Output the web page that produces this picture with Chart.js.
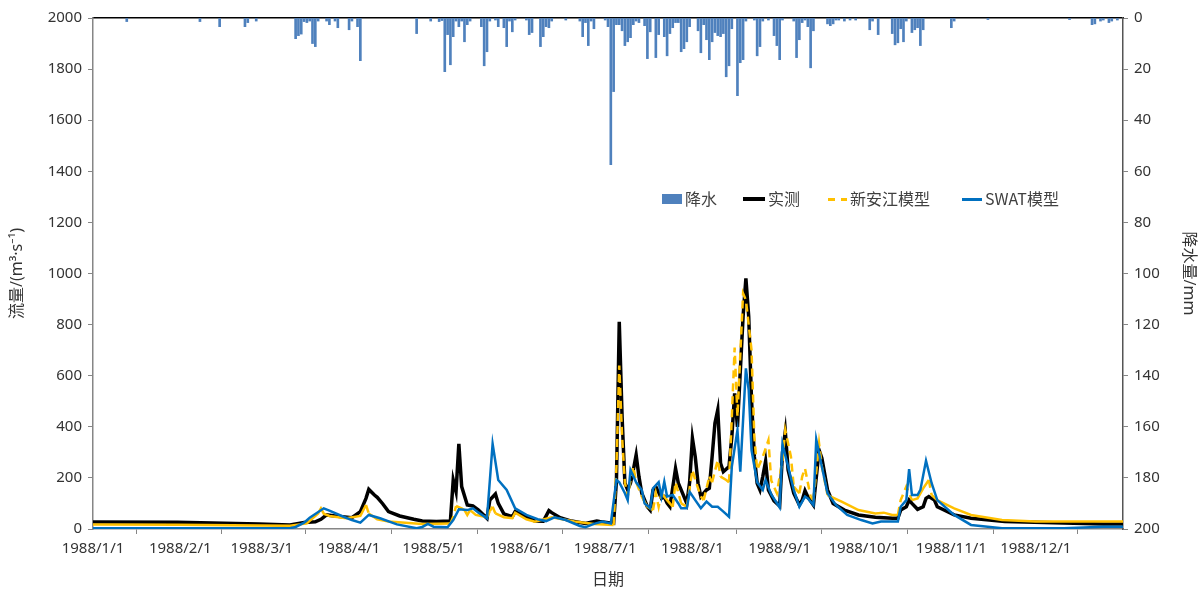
<!DOCTYPE html>
<html>
<head>
<meta charset="utf-8">
<script src="https://cdn.jsdelivr.net/npm/chart.js@4.4.1/dist/chart.umd.min.js"></script>
<style>
  body { margin: 0; background: #fff; }
  #wrap { position: relative; width: 1198px; height: 594px; }
  .lg { position: absolute; top: 187px; font: 16px "Noto Sans CJK SC", "Noto Sans", sans-serif; color: #404040; line-height: 22px; white-space: nowrap; }
  .sw { display: inline-block; vertical-align: middle; margin-right: 3px; }
</style>
</head>
<body>
<div id="wrap">
  <canvas id="c" width="1198" height="594"></canvas>
  <div class="lg" style="left:662px"><span class="sw" style="width:20px;height:10px;background:#4f81bd;margin-top:-3px"></span>降水</div>
  <div class="lg" style="left:743px"><span class="sw" style="width:22px;height:4px;background:#000;margin-top:-3px"></span>实测</div>
  <div class="lg" style="left:828px"><span class="sw" style="width:7px;height:3px;background:#ffc000;margin-right:6px;margin-top:-3px"></span><span class="sw" style="width:6px;height:3px;background:#ffc000;margin-top:-3px"></span>新安江模型</div>
  <div class="lg" style="left:962px"><span class="sw" style="width:20px;height:3px;background:#0070c0;margin-top:-3px"></span>SWAT模型</div>
</div>
<script>
// 1988 年日流量与降水 —— 数值按图读取（x = 年内第几天，0 = 1月1日）

// ── 坐标轴标签 ─────────────────────────────────────────────
const monthStarts = [0, 31, 60, 91, 121, 152, 182, 213, 244, 274, 305, 335];
const monthLabels = ['1988/1/1', '1988/2/1', '1988/3/1', '1988/4/1', '1988/5/1', '1988/6/1',
                     '1988/7/1', '1988/8/1', '1988/9/1', '1988/10/1', '1988/11/1', '1988/12/1'];

// ── 降水 (mm) ─────────────────────────────────────────────
const rainDays = [12, 38, 45, 54, 55, 58, 72, 73, 74, 75, 76, 77, 78, 79, 80, 83, 84, 86, 87, 91, 92, 94, 95,
  115, 120, 123, 124, 125, 126, 127, 128, 129, 130, 131, 132, 133, 134, 138, 139, 140, 141, 143, 144, 146, 147,
  148, 149, 150, 154, 155, 156, 159, 160, 161, 162, 163, 168, 173, 174, 175, 176, 177, 178, 182, 183, 184, 185,
  186, 187, 188, 189, 190, 191, 192, 193, 194, 196, 197, 198, 200, 201, 203, 204, 205, 206, 207, 208, 209, 210,
  211, 212, 215, 216, 217, 218, 219, 220, 221, 222, 223, 224, 225, 226, 227, 229, 230, 231, 232, 235, 236, 237,
  238, 240, 242, 243, 244, 245, 249, 250, 251, 252, 253, 254, 255, 256, 261, 262, 263, 264, 265, 267, 269, 271,
  276, 277, 279, 284, 285, 286, 287, 288, 289, 291, 292, 293, 294, 295, 305, 306, 318, 347, 355, 356, 358, 359,
  361, 362, 364];
const rainMm = [1.4, 1.4, 3.4, 3.4, 1.8, 1.2, 8.1, 6.9, 6.3, 1.4, 1.8, 1.2, 10.0, 11.2, 1.2, 1.2, 2.6, 1.2, 3.8, 4.6, 1.2, 3.4, 16.7,
  6.1, 1.2, 1.4, 1.0, 21.0, 6.5, 18.3, 7.3, 1.2, 3.4, 1.2, 9.3, 2.6, 1.2, 3.4, 18.7, 13.2, 1.2, 0.8, 3.4, 3.8, 11.2,
  1.2, 5.4, 0.8, 0.8, 6.5, 5.7, 11.2, 7.3, 3.4, 3.8, 1.2, 0.8, 1.2, 7.3, 1.8, 10.8, 1.2, 4.2, 0.8, 3.4, 57.4, 28.8,
  2.6, 2.6, 5.0, 10.8, 9.3, 7.7, 2.6, 1.2, 1.8, 3.0, 15.9, 5.4, 15.5, 6.5, 7.3, 14.8, 6.1, 3.8, 1.8, 1.8, 13.2, 12.0,
  9.3, 3.4, 5.0, 13.6, 2.6, 8.5, 16.3, 9.3, 5.7, 6.9, 7.3, 6.1, 23.0, 18.7, 4.2, 30.4, 17.5, 16.3, 1.2, 0.8, 14.8, 11.2,
  1.2, 0.8, 6.9, 10.8, 16.3, 0.8, 1.2, 15.5, 8.5, 1.8, 0.8, 3.4, 19.5, 5.0, 2.3, 3.0, 2.3, 0.8, 0.8, 1.2, 0.8, 0.8,
  4.6, 1.2, 6.5, 6.1, 10.5, 9.7, 4.2, 9.3, 1.2, 5.7, 4.6, 3.8, 10.8, 4.6, 3.8, 1.2, 0.6, 0.6, 2.6, 2.3, 1.2, 0.8,
  1.8, 1.2, 0.8];

// ── 流量 (m³/s)：[天, 值] ────────────────────────────────────
const observed = [[0, 27], [30, 26], [59, 20], [70, 16], [75, 25], [79, 28], [81, 38], [83, 55], [86, 51], [92, 44],
  [95, 68], [97, 120], [98, 155], [100, 133], [101, 124], [103, 98], [105, 68], [109, 51], [114, 38], [117, 31],
  [122, 29], [127, 31], [128, 192], [129, 146], [130, 333], [131, 166], [133, 94], [135, 90], [137, 74], [140, 42],
  [141, 113], [143, 137], [144, 100], [146, 59], [149, 48], [150, 68], [154, 48], [157, 31], [160, 30], [162, 72],
  [163, 64], [166, 44], [170, 31], [175, 22], [179, 31], [180, 29], [185, 22], [186, 190], [187, 811], [188, 440],
  [189, 180], [190, 153], [191, 180], [192, 231], [193, 290], [194, 205], [195, 140], [197, 87], [198, 74], [199, 153],
  [200, 166], [202, 120], [203, 126], [204, 101], [205, 87], [207, 237], [208, 179], [209, 153], [211, 100], [212, 183],
  [213, 355], [214, 283], [215, 179], [216, 127], [218, 153], [219, 160], [220, 283], [221, 414], [222, 466], [223, 257],
  [224, 224], [226, 244], [227, 361], [228, 531], [229, 400], [231, 831], [232, 981], [233, 831], [234, 505], [235, 283],
  [236, 179], [237, 153], [238, 205], [239, 265], [240, 153], [242, 110], [244, 90], [245, 300], [246, 381], [247, 231],
  [249, 140], [251, 94], [252, 113], [253, 150], [254, 126], [256, 94], [258, 309], [259, 277], [261, 153], [263, 100],
  [267, 74], [272, 55], [278, 46], [284, 42], [286, 42], [287, 74], [289, 87], [290, 113], [291, 100], [293, 77],
  [295, 87], [296, 120], [297, 127], [299, 113], [300, 87], [306, 55], [312, 42], [324, 29], [359, 20], [366, 20]];

const xinanjiang = [[0, 18], [30, 17], [59, 14], [70, 13], [76, 22], [80, 61], [81, 81], [82, 60], [84, 51], [90, 42],
  [95, 51], [97, 94], [98, 61], [101, 38], [105, 29], [117, 20], [127, 22], [128, 48], [129, 90], [131, 81], [132, 74],
  [133, 55], [134, 74], [136, 55], [140, 46], [141, 70], [142, 87], [143, 61], [146, 46], [149, 42], [150, 64], [154, 38],
  [157, 29], [163, 46], [171, 29], [178, 20], [185, 16], [186, 244], [187, 640], [188, 361], [189, 183], [190, 127],
  [191, 192], [192, 244], [193, 183], [195, 127], [197, 87], [199, 74], [200, 140], [201, 87], [202, 140], [204, 113],
  [206, 87], [207, 183], [209, 100], [211, 87], [213, 231], [214, 192], [216, 127], [217, 113], [219, 205], [220, 183],
  [222, 270], [223, 205], [225, 192], [226, 183], [227, 440], [228, 710], [229, 440], [231, 922], [232, 896], [234, 700],
  [235, 361], [236, 231], [238, 283], [240, 348], [241, 190], [243, 140], [245, 270], [246, 387], [248, 283], [249, 166],
  [251, 140], [252, 205], [253, 237], [255, 127], [256, 113], [258, 335], [259, 244], [261, 133], [266, 107], [272, 74],
  [278, 61], [281, 64], [284, 55], [286, 55], [287, 113], [289, 166], [291, 113], [293, 120], [295, 159], [297, 192],
  [298, 133], [300, 113], [306, 81], [312, 55], [323, 35], [335, 29], [366, 29]];

const swat = [[0, 3], [70, 3], [72, 8], [75, 25], [77, 44], [82, 81], [84, 72], [89, 48], [92, 35], [95, 25], [98, 55],
  [102, 42], [108, 18], [115, 3], [117, 8], [119, 20], [121, 9], [126, 7], [128, 35], [130, 77], [133, 74], [135, 81],
  [137, 64], [140, 42], [142, 333], [144, 192], [147, 153], [150, 81], [154, 55], [158, 38], [161, 31], [164, 46],
  [168, 35], [173, 12], [175, 7], [178, 20], [181, 29], [184, 22], [186, 192], [187, 183], [189, 140], [190, 113],
  [191, 231], [193, 183], [195, 153], [196, 100], [198, 81], [199, 159], [201, 183], [202, 127], [203, 185], [204, 127],
  [206, 133], [208, 100], [209, 81], [211, 81], [212, 146], [214, 113], [216, 81], [218, 107], [220, 87], [222, 87],
  [224, 68], [226, 48], [227, 244], [229, 387], [230, 224], [232, 629], [233, 544], [234, 309], [236, 183], [238, 153],
  [239, 192], [241, 135], [244, 84], [245, 332], [247, 244], [249, 153], [251, 87], [253, 127], [254, 120], [256, 94],
  [257, 351], [259, 244], [261, 140], [264, 94], [268, 55], [273, 35], [277, 22], [280, 29], [286, 29], [287, 87],
  [289, 113], [290, 234], [291, 133], [293, 133], [294, 153], [296, 267], [298, 179], [300, 113], [306, 55], [312, 16],
  [323, 3], [345, 3], [359, 9], [366, 9]];

const toXY = (pairs) => pairs.map(([x, y]) => ({ x, y }));
const tickFont = { family: '"Noto Sans", sans-serif', size: 15 };
const titleFont = { family: '"Noto Sans", "Noto Sans CJK SC", sans-serif', size: 16 };
const INK = '#333';

// Excel 的虚线按每日一段重新起笔：只有日变化大的地方才看得出虚线
const dashIfSteep = (ctx) => {
  const dx = Math.abs(ctx.p1.parsed.x - ctx.p0.parsed.x) || 1;
  const perDayPx = Math.abs(ctx.p1.y - ctx.p0.y) / dx;
  return perDayPx > 6 ? [8, 5] : [];
};

new Chart(document.getElementById('c'), {
  type: 'bar',
  data: {
    datasets: [
      {
        type: 'bar',
        label: '降水',
        data: rainDays.map((d, i) => ({ x: d, y: rainMm[i] })),
        backgroundColor: '#4f81bd',
        barThickness: 2,
        yAxisID: 'y2',
        order: 3,
      },
      {
        type: 'line',
        label: '实测',
        data: toXY(observed),
        borderColor: '#000',
        borderWidth: 3.5,
        pointRadius: 0,
        tension: 0,
        yAxisID: 'y',
        order: 2,
      },
      {
        type: 'line',
        label: '新安江模型',
        data: toXY(xinanjiang),
        borderColor: '#ffc000',
        borderWidth: 2.5,
        pointRadius: 0,
        tension: 0,
        yAxisID: 'y',
        order: 1,
        segment: { borderDash: dashIfSteep },
      },
      {
        type: 'line',
        label: 'SWAT模型',
        data: toXY(swat),
        borderColor: '#0070c0',
        borderWidth: 2.5,
        pointRadius: 0,
        tension: 0,
        yAxisID: 'y',
        order: 0,
      },
    ],
  },
  options: {
    responsive: false,
    animation: false,
    layout: { padding: { top: 18, left: 0, right: 0, bottom: 0 } },
    plugins: { legend: { display: false }, tooltip: { enabled: false } },
    scales: {
      x: {
        type: 'linear',
        min: 0,
        max: 366,
        offset: false,
        afterBuildTicks: (s) => { s.ticks = monthStarts.map((v) => ({ value: v })); },
        afterFit: (s) => { s.height = 65; },
        ticks: {
          autoSkip: false,
          maxRotation: 0,
          padding: 6,
          color: INK,
          font: tickFont,
          callback: (v) => monthLabels[monthStarts.indexOf(v)],
        },
        grid: { drawOnChartArea: false, tickLength: 5, color: '#868686' },
        border: { color: '#868686', width: 1.5 },
        title: { display: true, text: '日期', color: INK, font: titleFont, padding: { top: 4 } },
      },
      xTop: {
        type: 'linear',
        position: 'top',
        min: 0,
        max: 366,
        afterFit: (s) => { s.height = 0; },
        ticks: { display: false },
        grid: { display: false },
        border: { color: '#000', width: 1.5 },
      },
      y: {
        position: 'left',
        min: 0,
        max: 2000,
        afterFit: (s) => { s.width = 93; },
        ticks: { stepSize: 200, color: INK, font: tickFont, padding: 6, callback: (v) => String(v) },
        grid: { drawOnChartArea: false, tickLength: 5, color: '#868686' },
        border: { color: '#868686', width: 1.5 },
        title: { display: true, text: '流量/(m³·s⁻¹)', color: INK, font: titleFont, padding: { top: 8, bottom: 2 } },
      },
      y2: {
        position: 'right',
        reverse: true,
        min: 0,
        max: 200,
        afterFit: (s) => { s.width = 75; },
        ticks: { stepSize: 20, color: INK, font: tickFont, padding: 6, callback: (v) => String(v) },
        grid: { drawOnChartArea: false, tickLength: 5, color: '#868686' },
        border: { color: '#555', width: 1.5 },
        title: { display: true, text: '降水量/mm', color: INK, font: titleFont, padding: { top: 0 } },
      },
    },
  },
});
</script>
</body>
</html>
